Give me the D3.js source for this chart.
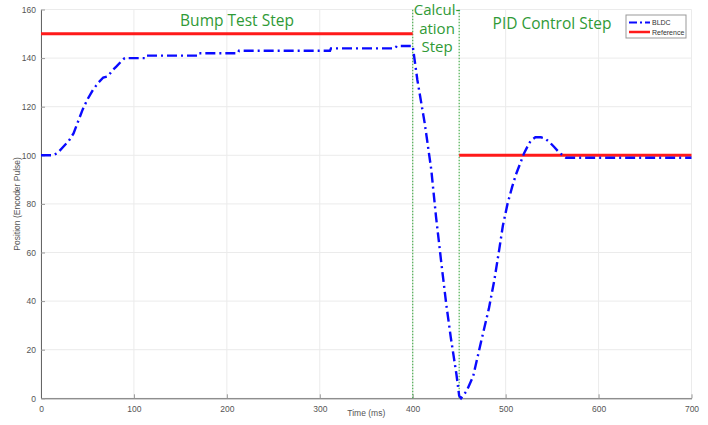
<!DOCTYPE html>
<html>
<head>
<meta charset="utf-8">
<script src="https://cdn.jsdelivr.net/npm/d3@7"></script>
<style>
  body { margin: 0; background: #fff; }
  svg { display: block; }
</style>
</head>
<body>
<div id="chart"></div>
<script>
// data
var timeMs = [0, 13, 18, 24, 30, 35, 40, 45, 50, 56, 62, 67, 72, 77, 81, 86, 90, 112, 113, 169, 170, 212, 213, 311, 312, 381, 383, 397,
              400, 405, 413, 420, 425, 431, 436, 441, 447, 450, 452, 458, 465, 474, 482, 488, 493, 497, 502, 507, 511, 516, 520, 524, 527,
              532, 538, 542, 547, 552, 558, 565, 700];
var position = [100, 100, 101, 103.5, 106, 109, 114, 119, 123, 127, 130, 132, 132.5, 135, 136.5, 138.5, 140, 140, 141, 141, 142, 142, 143, 143, 144, 144, 145, 145,
                145, 131, 113, 94, 75, 55, 39, 25, 10, 1, 0, 3, 9, 24, 37, 49, 61, 71, 80, 87, 92, 97, 101, 104, 106,
                107.4, 107.4, 107, 105.5, 103.5, 101, 99, 99];

var refTime = [[0, 400], [450, 700]];
var refValue = [150, 100];

var stepLines = [400, 450];
var xTicks = [0, 100, 200, 300, 400, 500, 600, 700];
var yTicks = [0, 20, 40, 60, 80, 100, 120, 140, 160];

var width = 708, height = 425;
var margin = {top: 10, right: 16, bottom: 27, left: 41};

var svg = d3.select("#chart").append("svg")
    .attr("width", width)
    .attr("height", height);

var x = d3.scaleLinear().domain([0, 700]).range([margin.left, width - margin.right - 0.5]);
var y = d3.scaleLinear().domain([0, 160]).range([height - margin.bottom + 0.3, margin.top - 0.5]);

// grid
svg.append("g")
    .selectAll("line.gx")
    .data(xTicks)
    .enter().append("line")
    .attr("x1", function(d) { return x(d); })
    .attr("x2", function(d) { return x(d); })
    .attr("y1", y(0)).attr("y2", y(160))
    .attr("stroke", "#ebebeb").attr("stroke-width", 1);

svg.append("g")
    .selectAll("line.gy")
    .data(yTicks)
    .enter().append("line")
    .attr("x1", x(0)).attr("x2", x(700))
    .attr("y1", function(d) { return y(d); })
    .attr("y2", function(d) { return y(d); })
    .attr("stroke", "#ebebeb").attr("stroke-width", 1);

// axes, ticks inside like matlab
var xAxis = svg.append("g")
    .attr("transform", "translate(0," + y(0) + ")")
    .call(d3.axisBottom(x).tickValues(xTicks).tickSizeInner(-4).tickSizeOuter(0).tickPadding(8));

var yAxis = svg.append("g")
    .attr("transform", "translate(" + x(0) + ",0)")
    .call(d3.axisLeft(y).tickValues(yTicks).tickSizeInner(-4).tickSizeOuter(0).tickPadding(5));

[xAxis, yAxis].forEach(function(a) {
    a.select(".domain").attr("stroke", "#666");
    a.selectAll(".tick line").attr("stroke", "#999");
    a.selectAll("text")
        .attr("fill", "#555")
        .style("font-family", "Liberation Sans, Arial, sans-serif")
        .style("font-size", "8.5px");
});

// axis labels
svg.append("text")
    .attr("x", (x(0) + x(700)) / 2)
    .attr("y", 416)
    .attr("text-anchor", "middle")
    .attr("fill", "#555")
    .style("font-family", "Liberation Sans, Arial, sans-serif")
    .style("font-size", "8.5px")
    .text("Time (ms)");

svg.append("text")
    .attr("transform", "translate(20," + ((y(0) + y(160)) / 2) + ") rotate(-90)")
    .attr("text-anchor", "middle")
    .attr("fill", "#555")
    .style("font-family", "Liberation Sans, Arial, sans-serif")
    .style("font-size", "8.5px")
    .text("Position (Encoder Pulse)");

// step separators
svg.append("g")
    .selectAll("line")
    .data(stepLines)
    .enter().append("line")
    .attr("x1", function(d) { return x(d); })
    .attr("x2", function(d) { return x(d); })
    .attr("y1", y(0)).attr("y2", y(160))
    .attr("stroke", "#4caf50")
    .attr("stroke-width", 1.2)
    .attr("stroke-dasharray", "1.5,1.5");

// reference
refTime.forEach(function(t, i) {
    svg.append("line")
        .attr("x1", x(t[0])).attr("x2", x(t[1]))
        .attr("y1", y(refValue[i])).attr("y2", y(refValue[i]))
        .attr("stroke", "#ff1a1a")
        .attr("stroke-width", 3);
});

// BLDC
var line = d3.line()
    .x(function(d, i) { return x(timeMs[i]); })
    .y(function(d) { return y(d); });

svg.append("path")
    .attr("d", line(position))
    .attr("fill", "none")
    .attr("stroke", "#0a0aff")
    .attr("stroke-width", 2.4)
    .attr("stroke-dasharray", "10,4,2,4");

// step labels
var green = "#2f9a36";
var labelFont = "Open Sans, Noto Sans, sans-serif";

svg.append("text")
    .attr("x", 237).attr("y", 26)
    .attr("text-anchor", "middle")
    .attr("fill", green)
    .style("font-family", labelFont)
    .style("font-size", "15.5px")
    .text("Bump Test Step");

svg.append("text")
    .attr("x", 552).attr("y", 29)
    .attr("text-anchor", "middle")
    .attr("fill", green)
    .style("font-family", labelFont)
    .style("font-size", "15.5px")
    .text("PID Control Step");

var calc = ["Calcul-", "ation", "Step"];
svg.append("g")
    .selectAll("text")
    .data(calc)
    .enter().append("text")
    .attr("x", 437)
    .attr("y", function(d, i) { return 15 + i * 18.5; })
    .attr("text-anchor", "middle")
    .attr("fill", green)
    .style("font-family", labelFont)
    .style("font-size", "15px")
    .text(function(d) { return d; });

// legend
var legend = svg.append("g").attr("transform", "translate(626,15)");
legend.append("rect")
    .attr("width", 60).attr("height", 23)
    .attr("fill", "#fff")
    .attr("stroke", "#999")
    .attr("stroke-width", 1);

legend.append("line")
    .attr("x1", 3).attr("x2", 24).attr("y1", 7.5).attr("y2", 7.5)
    .attr("stroke", "#0a0aff").attr("stroke-width", 2.2)
    .attr("stroke-dasharray", "8,3,2,3");
legend.append("line")
    .attr("x1", 3).attr("x2", 24).attr("y1", 17).attr("y2", 17)
    .attr("stroke", "#ff1a1a").attr("stroke-width", 2.5);

legend.selectAll("text")
    .data(["BLDC", "Reference"])
    .enter().append("text")
    .attr("x", 26)
    .attr("y", function(d, i) { return 10 + i * 9.5; })
    .attr("fill", "#333")
    .style("font-family", "Liberation Sans, Arial, sans-serif")
    .style("font-size", "7px")
    .text(function(d) { return d; });
</script>
</body>
</html>
